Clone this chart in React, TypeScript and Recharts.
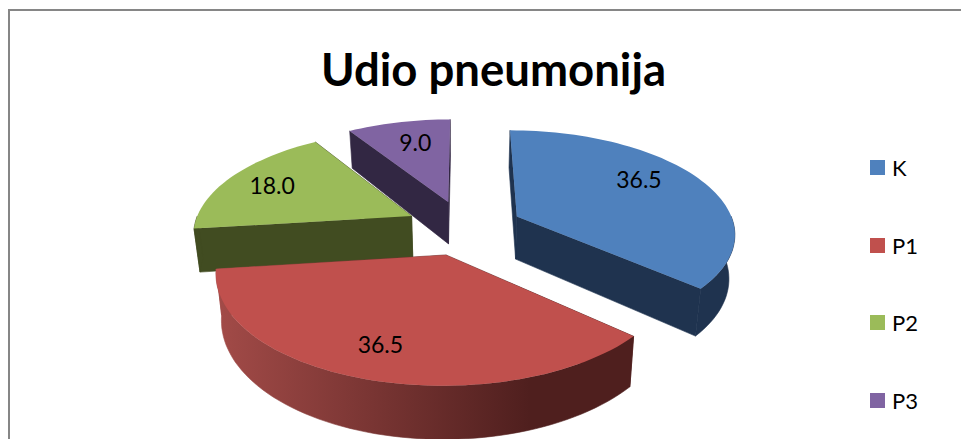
import { PieChart, Pie, Legend } from "recharts";

const categories = ["K", "P1", "P2", "P3"];
const values = [36.5, 36.5, 18.0, 9.0];
const colors = ["#4f81bd", "#c0504d", "#9bbb59", "#8064a2"];
const wallColors = ["#1f334f", "url(#redWall)", "#414c21", "#322743"];
const labelRadius = [0.65, 0.75, 0.75, 0.7];
const labelDx = [2, -7, -3, 3];
const labelDy = [-12, 0, -1, -2];

// pie is walked backwards so the slices paint back to front (P3 first, K last)
const pieData = categories
  .map((name, i) => ({ name, value: values[i], fill: colors[i], wall: wallColors[i], idx: i }))
  .reverse();

const TILT = 0.468;
const PERSPECTIVE = 0.15;
const EXPLODE = 0.27;
const DEPTH = 43.5;
const BOTTOM_SHRINK = 0.022;
const RAD = Math.PI / 180;

// disc coordinates (radius 1, y towards the viewer) to screen
function project(cx: number, cy: number, r: number, x: number, y: number, z = 0) {
  const s = 1 / (1 - PERSPECTIVE * y);
  return [cx + r * x * s * (1 - BOTTOM_SHRINK * z), cy + (r * TILT * y + DEPTH * z) * s];
}

function discPoint(mid: number, angle: number, radius: number) {
  return [
    EXPLODE * Math.cos(mid * RAD) + radius * Math.cos(angle * RAD),
    -EXPLODE * Math.sin(mid * RAD) - radius * Math.sin(angle * RAD),
  ];
}

const toPath = (pts: number[][]) =>
  "M" + pts.map((p) => p[0].toFixed(1) + "," + p[1].toFixed(1)).join("L") + "Z";

function Slice3D(props: any) {
  const { cx, cy, outerRadius, startAngle, endAngle, fill, wall } = props;
  const lo = Math.min(startAngle, endAngle);
  const hi = Math.max(startAngle, endAngle);
  const mid = (lo + hi) / 2;
  const at = (angle: number, radius: number, z = 0) => {
    const [x, y] = discPoint(mid, angle, radius);
    return project(cx, cy, outerRadius, x, y, z);
  };
  const arc = (from: number, to: number, z = 0) => {
    const pts = [];
    const n = Math.max(2, Math.ceil((to - from) / 2));
    for (let i = 0; i <= n; i++) pts.push(at(from + ((to - from) * i) / n, 1, z));
    return pts;
  };
  const cut = (angle: number) =>
    toPath([at(angle, 0), at(angle, 1), at(angle, 1, 1), at(angle, 0, 1)]);
  const wallFrom = Math.max(lo, 180);
  const wallTo = Math.min(hi, 360);
  return (
    <g>
      <path d={cut(lo)} fill={wall} stroke={wall} strokeWidth={0.6} />
      <path d={cut(hi)} fill={wall} stroke={wall} strokeWidth={0.6} />
      {wallTo > wallFrom && (
        <path
          d={toPath([...arc(wallFrom, wallTo), ...arc(wallFrom, wallTo, 1).reverse()])}
          fill={wall}
          stroke={wall}
          strokeWidth={0.6}
        />
      )}
      <path d={toPath([at(lo, 0), ...arc(lo, hi)])} fill={fill} />
    </g>
  );
}

function sliceLabel(props: any) {
  const { cx, cy, outerRadius, midAngle, value, idx } = props;
  const [x, y] = discPoint(midAngle, midAngle, labelRadius[idx]);
  const [px, py] = project(cx, cy, outerRadius, x, y);
  return (
    <text
      x={px + labelDx[idx]}
      y={py + labelDy[idx]}
      textAnchor="middle"
      dominantBaseline="central"
      fill="#000"
      fontSize={23}
      fontFamily="Lato"
    >
      {Number(value).toFixed(1)}
    </text>
  );
}

function renderLegend({ payload }: any) {
  return (
    <div>
      {(payload || []).map((entry: any) => (
        <div
          key={entry.value}
          style={{ height: 77.5, display: "flex", alignItems: "flex-start" }}
        >
          <span style={{ width: 15, height: 15, marginTop: 5, background: entry.color }} />
          <span style={{ marginLeft: 7, fontFamily: "Lato", fontSize: 22, lineHeight: "25px" }}>
            {entry.value}
          </span>
        </div>
      ))}
    </div>
  );
}

export default function App() {
  return (
    <div
      style={{
        position: "absolute",
        left: 0,
        top: 0,
        width: 961,
        height: 439,
        overflow: "hidden",
        background: "#fff",
      }}
    >
      <div
        style={{
          position: "absolute",
          left: 8,
          top: 9,
          width: 980,
          height: 460,
          border: "2px solid #868686",
        }}
      />
      <div
        style={{
          position: "absolute",
          left: 0,
          width: 987,
          top: 39,
          textAlign: "center",
          fontFamily: "Lato",
          fontWeight: 700,
          fontSize: 45.5,
          lineHeight: "60px",
          color: "#000",
        }}
      >
        Udio pneumonija
      </div>
      <div style={{ position: "absolute", left: 0, top: 0 }}>
        <PieChart width={961} height={439} margin={{ top: 0, right: 0, bottom: 0, left: 0 }}>
          <defs>
            <linearGradient id="redWall" gradientUnits="userSpaceOnUse" x1={215} y1={0} x2={530} y2={0}>
              <stop offset="0" stopColor="#a34b48" />
              <stop offset="1" stopColor="#4f1f1e" />
            </linearGradient>
          </defs>
          <Pie
            data={pieData}
            dataKey="value"
            nameKey="name"
            cx={464}
            cy={227.5}
            outerRadius={218}
            startAngle={90}
            endAngle={450}
            stroke="none"
            shape={Slice3D}
            label={sliceLabel}
            labelLine={false}
            isAnimationActive={false}
          />
          <Legend
            layout="vertical"
            content={renderLegend}
            wrapperStyle={{ position: "absolute", left: 870, top: 155, width: 90, bottom: "auto" }}
          />
        </PieChart>
      </div>
    </div>
  );
}
